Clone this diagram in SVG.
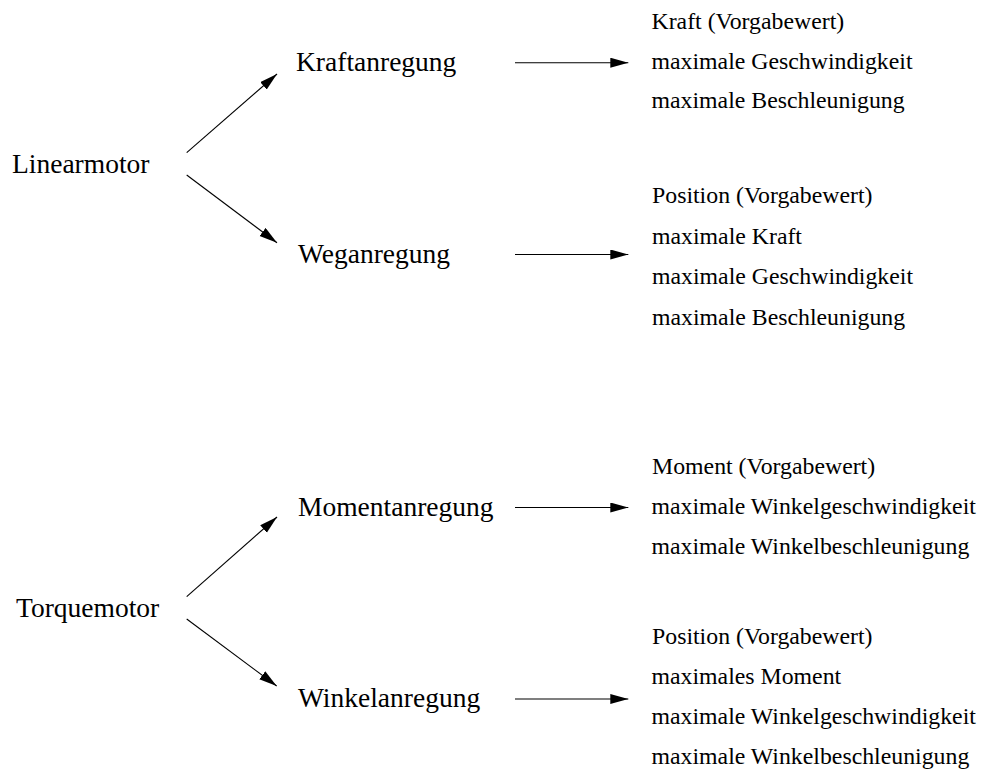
<svg xmlns="http://www.w3.org/2000/svg" width="986" height="769" viewBox="0 0 986 769">
  <style>
    text { font-family: "Liberation Serif", "Times New Roman", serif; fill: #000; }
    .motor { font-size: 27.5px; }
    .mode { font-size: 27.5px; }
    .param { font-size: 23.8px; }
    .conn line { stroke: #000; stroke-width: 1.1; fill: none; marker-end: url(#head); }
  </style>
  <defs>
    <marker id="head" markerUnits="userSpaceOnUse" markerWidth="19" markerHeight="11" refX="18" refY="5" orient="auto">
      <path d="M0,0 L18,5 L0,10 Z" fill="#000"/>
    </marker>
  </defs>

  <rect width="986" height="769" fill="#fff"/>

  <!-- motor types -->
  <g id="linearmotor"><text class="motor" x="12" y="173">Linearmotor</text></g>
  <g id="torquemotor"><text class="motor" x="16" y="616.5">Torquemotor</text></g>

  <!-- excitation modes -->
  <g id="kraftanregung"><text class="mode" x="296" y="70.5">Kraftanregung</text></g>
  <g id="weganregung"><text class="mode" x="298" y="263">Weganregung</text></g>
  <g id="momentanregung"><text class="mode" x="298" y="515.5">Momentanregung</text></g>
  <g id="winkelanregung"><text class="mode" x="298" y="706.5">Winkelanregung</text></g>

  <!-- parameter lists -->
  <g id="kraft-params">
    <text class="param" x="651.5" y="29">Kraft (Vorgabewert)</text>
    <text class="param" x="651.5" y="68.5">maximale Geschwindigkeit</text>
    <text class="param" x="651.5" y="108">maximale Beschleunigung</text>
  </g>
  <g id="weg-params">
    <text class="param" x="652" y="203">Position (Vorgabewert)</text>
    <text class="param" x="652" y="243.5">maximale Kraft</text>
    <text class="param" x="652" y="284">maximale Geschwindigkeit</text>
    <text class="param" x="652" y="324.5">maximale Beschleunigung</text>
  </g>
  <g id="moment-params">
    <text class="param" x="652" y="473.5">Moment (Vorgabewert)</text>
    <text class="param" x="651.5" y="513.5">maximale Winkelgeschwindigkeit</text>
    <text class="param" x="651.5" y="553.5">maximale Winkelbeschleunigung</text>
  </g>
  <g id="winkel-params">
    <text class="param" x="652" y="644">Position (Vorgabewert)</text>
    <text class="param" x="651.5" y="683.5">maximales Moment</text>
    <text class="param" x="651.5" y="723.5">maximale Winkelgeschwindigkeit</text>
    <text class="param" x="651.5" y="763.5">maximale Winkelbeschleunigung</text>
  </g>

  <!-- connectors -->
  <g id="connectors" class="conn">
    <line x1="186.7" y1="152.7" x2="277" y2="74"/>
    <line x1="186.7" y1="175" x2="277" y2="242.7"/>
    <line x1="186.7" y1="596.7" x2="277" y2="517"/>
    <line x1="186.7" y1="619" x2="276.7" y2="686"/>
    <line x1="515" y1="62.7" x2="628.3" y2="62.7"/>
    <line x1="515" y1="254.5" x2="628.3" y2="254.5"/>
    <line x1="515" y1="507.5" x2="628.3" y2="507.5"/>
    <line x1="515" y1="699" x2="628.3" y2="699"/>
  </g>
</svg>
